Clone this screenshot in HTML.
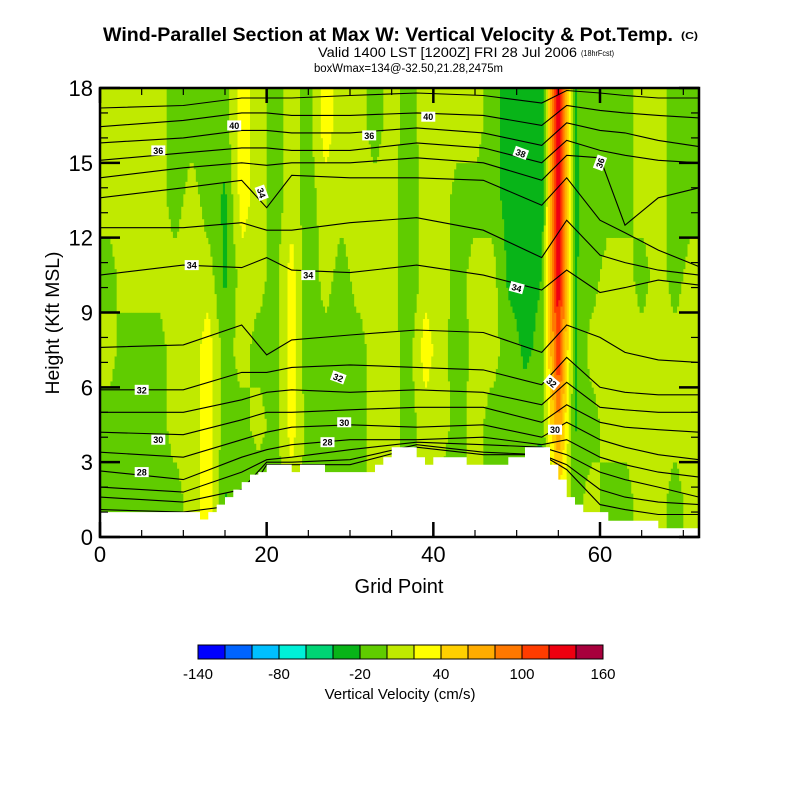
<!DOCTYPE html>
<html><head><meta charset="utf-8">
<style>
html,body{margin:0;padding:0;background:#fff;}
svg{display:block;font-family:"Liberation Sans",sans-serif;}
</style></head>
<body>
<svg id="chart" width="800" height="800" viewBox="0 0 800 800" xmlns="http://www.w3.org/2000/svg">
  <rect width="800" height="800" fill="#fff"/>
  <g>
    <text x="103" y="41" font-size="19" font-weight="bold" textLength="570" lengthAdjust="spacingAndGlyphs">Wind-Parallel Section at Max W: Vertical Velocity &amp; Pot.Temp.</text>
    <text x="681" y="39" font-size="10" font-weight="bold" textLength="17" lengthAdjust="spacingAndGlyphs">(C)</text>
    <text x="318" y="57" font-size="14" textLength="259" lengthAdjust="spacingAndGlyphs">Valid 1400 LST [1200Z] FRI 28 Jul 2006</text>
    <text x="581" y="56" font-size="8" textLength="33" lengthAdjust="spacingAndGlyphs">(18hrFcst)</text>
    <text x="314" y="72" font-size="11.5" textLength="189" lengthAdjust="spacingAndGlyphs">boxWmax=134@-32.50,21.28,2475m</text>
  </g>
  <g id="field"></g>
  <g id="contours"></g>
  <g id="terrain"></g>
  <g id="labels"></g>
  <g id="axes"></g>
  <g id="colorbar"></g>
</svg>
<script>
// ---- data ----
const xDomain = [0, 71.88];
const yDomain = [0, 18];
const xTicks = [0, 20, 40, 60];
const yTicks = [0, 3, 6, 9, 12, 15, 18];
const cbLevels = [-140,-120,-100,-80,-60,-40,-20,0,20,40,60,80,100,120,140,160];
const cbLabels = [-140, -80, -20, 40, 100, 160];
const cbColors = ["#0000ff","#0064ff","#00c0ff","#00f0d8","#00d474","#08b418","#60cc00","#c0ea00","#ffff00","#ffd000","#ffac00","#ff7800","#ff3c00","#ee0010","#a8003c"];
// terrain height (kft) for each grid cell g..g+1
const terrain = [1,1,1,1,1,1,1,1,1,1,1,1, .7,1,1.3,1.6,1.9,2.2,2.5,2.6, 2.9,2.9,2.9,2.6,2.9,2.9,2.9, 2.6,2.6,2.6,2.6,2.6,2.6, 2.9,3.2,3.6,3.6,3.6,3.2,2.9, 3.2,3.2,3.2,3.2, 2.9,2.9,2.9,2.9,2.9, 3.2,3.2, 3.6,3.6,3.6, 2.9,2.3,1.6,1.3, 1,1,1, .65,.65,.65,.65,.65,.65, .35,.35,.35,.35,.35];
// vertical velocity (cm/s): columns of 2 grid points, bands 0-3,3-6,...,15-18 kft
const wCols = [
[-10,-10,10,-10,10,10],[-10,-10,-10,10,10,10],[-10,-10,-10,10,10,10],[-10,-10,-10,10,10,10],
[-10,10,10,10,-10,-10],[10,10,10,10,10,-10],[30,30,30,10,-10,-10],[-22,-10,-10,-24,-24,-10],
[-10,-10,10,10,30,30],[-22,10,-10,10,10,10],[-10,-10,-10,-10,-10,-10],[10,30,30,30,10,10],
[-10,-10,-18,-18,-10,-10],[-10,-10,-10,10,10,30],[-10,-10,-10,-10,10,10],[-10,-10,-10,10,10,10],
[10,10,10,10,10,-10],[10,10,10,10,10,10],[-10,-10,-10,-22,-22,-10],[10,10,30,10,10,10],
[-10,10,10,10,10,10],[-10,-10,-15,-10,-10,10],[10,10,10,10,-10,10],[-10,-10,10,10,-10,-10],
[-10,-10,-10,-24,-28,-28],[-10,-10,-24,-28,-30,-30],[-50,-12,-15,-20,-40,-40],[40,80,120,135,150,150],
[-10,-22,-22,-22,-22,-22],[10,-10,10,-10,-15,-10],[-10,10,10,10,-10,-10],[-10,10,10,10,-10,-10],
[10,10,10,-10,10,10],[10,10,10,10,10,10],[-10,10,10,-10,-10,-10],[10,10,10,10,-10,-10]];
// potential temperature contours: heights (kft) at stations
const thetaStations = [0,10,17,20,23,30,38,46,53,56,60,63,67,72];
const thetaLevels = [25,26,27,28,29,30,31,32,33,34,35,36,37,38,39,40,41];
const theta25 = [1.1,1.0,1.3,2.9,2.9,2.9,3.6,3.3,3.3,2.7,1.3,1.1,0.9,0.9];
const theta26 = [1.6,1.4,1.9,3.0,3.0,3.1,3.7,3.4,3.3,2.9,1.9,1.6,1.4,1.3];
const theta27 = [2.0,1.8,2.6,3.1,3.2,3.5,3.8,3.7,3.6,3.3,2.6,2.3,2.0,1.6];
const theta28 = [2.65,2.3,3.2,3.5,3.7,3.9,3.9,4.0,3.7,3.9,3.2,2.9,2.6,2.4];
const theta29 = [3.4,3.2,3.9,4.2,4.4,4.5,4.4,4.5,4.0,4.6,3.9,3.6,3.3,3.1];
const theta30 = [4.2,4.1,4.7,5.0,5.0,5.1,5.2,5.2,4.6,5.3,4.6,4.4,4.3,4.2];
const theta31 = [5.0,5.0,5.5,5.8,5.9,5.8,5.9,5.8,5.3,6.2,5.2,5.1,5.0,5.0];
const theta32 = [5.9,5.9,6.6,6.6,6.8,6.9,6.8,6.7,6.1,7.2,6.0,5.8,5.7,5.7];
const theta33 = [7.6,7.7,8.5,7.3,7.9,8.1,8.3,8.2,7.4,8.5,8.0,7.4,7.1,7.0];
const theta34 = [10.5,10.9,10.8,11.2,10.7,10.6,10.9,10.5,9.9,10.7,9.8,10.0,10.3,10.1];
const theta35 = [12.4,12.4,12.6,12.3,12.3,12.6,12.8,12.3,11.2,12.7,11.3,11.0,10.7,10.5];
const theta36 = [13.6,14.0,14.3,13.2,14.5,14.4,14.4,14.3,13.3,14.4,12.7,12.2,11.5,10.84];
const theta37 = [14.4,14.8,15.0,14.9,15.0,15.0,15.2,15.0,14.3,15.3,15.2,12.5,13.6,14.0];
const theta38 = [15.1,15.4,15.6,15.6,15.5,15.5,15.8,15.6,15.0,15.9,15.5,15.3,15.1,15.0];
const theta39 = [15.8,16.0,16.3,16.3,16.2,16.2,16.4,16.2,15.7,16.6,16.3,16.2,15.9,15.65];
const theta40 = [16.45,16.7,17.0,17.0,16.9,16.9,17.0,16.9,16.5,17.3,17.1,17.0,16.9,16.8];
const theta41 = [17.2,17.3,17.6,17.6,17.6,17.7,17.8,17.7,17.4,17.9,17.8,17.7,17.6,17.6];
const thetaHeights = [theta25,theta26,theta27,theta28,theta29,theta30,theta31,theta32,theta33,theta34,theta35,theta36,theta37,theta38,theta39,theta40,theta41];
// contour label texts and their positions (grid, kft)
const labelTexts = ["36","40","36","40","38","36","34","34","34","34","32","32","32","30","30","30","28","28"];
const labelX = [7,16.1,32.3,39.4,50.5,60,11,25,50,19.4,5,28.6,54.2,7,29.3,54.6,5,27.3];
const labelY = [15.5,16.5,16.1,16.85,15.4,15.0,10.9,10.5,10.0,13.8,5.9,6.4,6.2,3.9,4.6,4.3,2.6,3.8];
const labelRot = [0,0,0,0,20,-70,0,0,15,70,0,20,40,0,0,0,0,0];

// ---- scales ----
const X0=100, X1=699, Y0=537, Y1=88;
function sx(g){return X0+(g-xDomain[0])/(xDomain[1]-xDomain[0])*(X1-X0);}
function sy(h){return Y0-(h-yDomain[0])/(yDomain[1]-yDomain[0])*(Y0-Y1);}
const NS="http://www.w3.org/2000/svg";
function mk(tag,attrs,parent){const e=document.createElementNS(NS,tag);for(const k in attrs)e.setAttribute(k,attrs[k]);parent.appendChild(e);return e;}
function colorFor(v){let i=0;while(i<cbColors.length-1&&v>=cbLevels[i+1])i++;return cbColors[i];}
function wAt(g,h){
  let cx=g/2-0.5; cx=Math.max(0,Math.min(wCols.length-1,cx));
  let cy=(h-1.5)/3; cy=Math.max(0,Math.min(5,cy));
  const i0=Math.floor(cx), i1=Math.min(wCols.length-1,i0+1), fx=cx-i0;
  const j0=Math.floor(cy), j1=Math.min(5,j0+1), fy=cy-j0;
  const a=wCols[i0][j0]*(1-fx)+wCols[i1][j0]*fx;
  const b=wCols[i0][j1]*(1-fx)+wCols[i1][j1]*fx;
  return a*(1-fy)+b*fy;
}
// ---- field ----
const field=document.getElementById('field');
const dg=0.25, dh=0.25;
for(let g=0; g<xDomain[1]; g+=dg){
  const g2=Math.min(g+dg,xDomain[1]);
  let runStart=0, runColor=null;
  for(let h=0; h<=18+1e-9; h+=dh){
    const c = h<18-1e-9 ? colorFor(wAt(g+dg/2,h+dh/2)) : null;
    if(c!==runColor){
      if(runColor!==null){
        const r=mk('rect',{x:sx(g).toFixed(2),y:sy(h).toFixed(2),width:(sx(g2)-sx(g)+0.4).toFixed(2),height:(sy(runStart)-sy(h)+0.3).toFixed(2),fill:runColor},field);
        
        
      }
      runStart=h; runColor=c;
    }
  }
}
// ---- contours ----
const cont=document.getElementById('contours');
thetaLevels.forEach((lev,k)=>{
  const hs=thetaHeights[k];
  let d='';
  thetaStations.forEach((g,i)=>{const gg=Math.min(g,xDomain[1]);d+=(i?'L':'M')+sx(gg).toFixed(1)+','+sy(hs[i]).toFixed(1);});
  const p=mk('path',{d:d,fill:'none',stroke:'#000','stroke-width':1.1},cont);
  
  
});
// ---- terrain ----
const ter=document.getElementById('terrain');
let td='M'+sx(0)+','+sy(0);
terrain.forEach((h,g)=>{const g2=Math.min(g+1,xDomain[1]);td+='L'+sx(g).toFixed(1)+','+sy(h).toFixed(1)+'L'+sx(g2).toFixed(1)+','+sy(h).toFixed(1);});
td+='L'+sx(xDomain[1])+','+sy(0)+'Z';
const tp=mk('path',{d:td,fill:'#fff',stroke:'none'},ter);


// ---- labels ----
const lab=document.getElementById('labels');
labelTexts.forEach((t,i)=>{
  const x=sx(labelX[i]), y=sy(labelY[i]);
  const g=mk('g',{transform:`translate(${x.toFixed(1)},${y.toFixed(1)}) rotate(${labelRot[i]})`},lab);
  
  
  mk('rect',{x:-7,y:-5,width:14,height:10,fill:'#fff'},g);
  const tx=mk('text',{x:0,y:3.5,'font-size':9,'font-weight':'bold','text-anchor':'middle'},g);
  tx.textContent=t;
});
// ---- axes ----
const ax=document.getElementById('axes');
const fr=mk('rect',{x:X0,y:Y1,width:X1-X0,height:Y0-Y1,fill:'none',stroke:'#000','stroke-width':2.5},ax);


for(let h=0;h<=18;h++){
  const major=h%3===0, L=major?20:8, y=sy(h);
  mk('line',{x1:X0,x2:X0+L,y1:y,y2:y,stroke:'#000','stroke-width':major?2.5:1.2},ax);
  mk('line',{x1:X1,x2:X1-L,y1:y,y2:y,stroke:'#000','stroke-width':major?2.5:1.2},ax);
}
for(let g=0;g<=70;g+=5){
  const major=g%20===0, L=major?15:7, x=sx(g);
  mk('line',{x1:x,x2:x,y1:Y0,y2:Y0-L,stroke:'#000','stroke-width':major?2.5:1.2},ax);
  mk('line',{x1:x,x2:x,y1:Y1,y2:Y1+L,stroke:'#000','stroke-width':major?2.5:1.2},ax);
}
yTicks.forEach(v=>{
  const t=mk('text',{x:93,y:sy(v)+8,'font-size':22,'text-anchor':'end'},ax);
  
  
  t.textContent=v;
});
xTicks.forEach(v=>{
  const t=mk('text',{x:sx(v),y:562,'font-size':22,'text-anchor':'middle'},ax);
  
  
  t.textContent=v;
});
const xt=mk('text',{x:399,y:593,'font-size':20,'text-anchor':'middle'},ax);


xt.textContent='Grid Point';
const yt=mk('text',{x:0,y:0,'font-size':19,'text-anchor':'middle',transform:'translate(59,323) rotate(-90)',textLength:143,lengthAdjust:'spacingAndGlyphs'},ax);


yt.textContent='Height (Kft MSL)';
// ---- colorbar ----
const cb=document.getElementById('colorbar');
const CB0=198, CB1=603, CBY=645, CBH=14;
const cbx=v=>CB0+(v-cbLevels[0])/(cbLevels[cbLevels.length-1]-cbLevels[0])*(CB1-CB0);
cbColors.forEach((c,i)=>{
  const r=mk('rect',{x:cbx(cbLevels[i]),y:CBY,width:cbx(cbLevels[i+1])-cbx(cbLevels[i]),height:CBH,fill:c,stroke:'#000','stroke-width':1},cb);
  
  
});
cbLabels.forEach(v=>{
  const t=mk('text',{x:cbx(v),y:679,'font-size':15,'text-anchor':'middle'},cb);
  
  
  t.textContent=v;
});
const cbt=mk('text',{x:400,y:699,'font-size':15,'text-anchor':'middle'},cb);


cbt.textContent='Vertical Velocity (cm/s)';
</script>
</body></html>
